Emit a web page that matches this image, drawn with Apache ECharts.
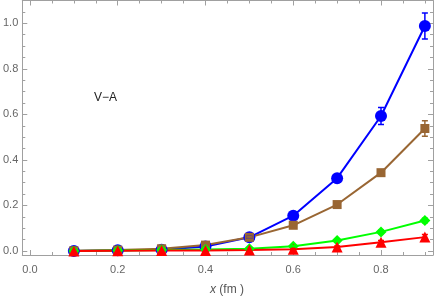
<!DOCTYPE html>
<html><head><meta charset="utf-8">
<script src="https://cdn.jsdelivr.net/npm/echarts@6/dist/echarts.min.js"></script>
<style>html,body{margin:0;padding:0;background:#fff}#c{width:436px;height:300px}</style>
</head><body><div id="c"></div>
<script>
const xs = [0.1,0.2,0.3,0.4,0.5,0.6,0.7,0.8,0.9];
const blueY  = [0.0,0.003,0.006,0.02,0.06,0.155,0.32,0.593,0.988];
const blueE  = [0,0,0,0,0.004,0.006,0.012,0.037,0.057];
const brownY = [0.001,0.004,0.01,0.026,0.06,0.113,0.204,0.344,0.538];
const brownE = [0,0,0,0,0.003,0.004,0.006,0.013,0.034];
const greenY = [0.0,0.002,0.004,0.007,0.01,0.021,0.046,0.084,0.134];
const greenE = [0,0,0,0,0,0.002,0.004,0.007,0.01];
const redY   = [0.0,0.001,0.002,0.002,0.004,0.008,0.018,0.039,0.061];
const redE   = [0,0,0,0,0,0.002,0.004,0.007,0.012];
const xMajor = [0,0.2,0.4,0.6,0.8];
const xMinor = [0.05,0.1,0.15,0.25,0.3,0.35,0.45,0.5,0.55,0.65,0.7,0.75,0.85,0.9];
const yMajor = [0,0.2,0.4,0.6,0.8,1.0];
const yMinor = [0.05,0.1,0.15,0.25,0.3,0.35,0.45,0.5,0.55,0.65,0.7,0.75,0.85,0.9,0.95,1.05];
const annotation = 'V\u2212A';
const xTitle = 'x';
const xUnit = ' (fm )';

const XMIN=-0.0175, XMAX=0.9185, YMIN=-0.0175, YMAX=1.10;
const frame = '#a0a0a0';
const labelColor = '#666';
const font = 'Liberation Sans';

function xAxisDef(pos, vals, len, labels, showLine){
  return {type:'value', position:pos, min:XMIN, max:XMAX, gridIndex:0,
    axisLine:{show:showLine, onZero:false, lineStyle:{color:frame,width:1}},
    splitLine:{show:false},
    axisTick:{show:true, inside:true, length:len, customValues:vals, lineStyle:{color:frame}},
    axisLabel:{show:labels, customValues:vals, color:labelColor, fontFamily:font, fontSize:11, margin:9,
      formatter:v=>v.toFixed(1)}};
}
function yAxisDef(pos, vals, len, labels, showLine){
  return {type:'value', position:pos, min:YMIN, max:YMAX, gridIndex:0,
    axisLine:{show:showLine, onZero:false, lineStyle:{color:frame,width:1}},
    splitLine:{show:false},
    axisTick:{show:true, inside:true, length:len, customValues:vals, lineStyle:{color:frame}},
    axisLabel:{show:labels, customValues:vals, color:labelColor, fontFamily:font, fontSize:11, margin:4,
      formatter:v=>v.toFixed(1)}};
}

function lineSeries(name, ys, color, symbol, size){
  return {name, type:'line', xAxisIndex:0, yAxisIndex:0, data: xs.map((x,i)=>[x,ys[i]]),
    symbol, symbolSize:size, clip:true,
    lineStyle:{color, width:2}, itemStyle:{color}, z:3, animation:false};
}
function errSeries(ys, es, color){
  return {type:'custom', xAxisIndex:0, yAxisIndex:0, z:4, animation:false, clip:true,
    data: xs.map((x,i)=>[x, ys[i]-es[i], ys[i]+es[i]]).filter((d,i)=>es[i]>0),
    renderItem:(params, api)=>{
      const lo = api.coord([api.value(0), api.value(1)]);
      const hi = api.coord([api.value(0), api.value(2)]);
      const w=3;
      const st={stroke:color, lineWidth:1.5};
      return {type:'group', children:[
        {type:'line', shape:{x1:lo[0],y1:lo[1],x2:hi[0],y2:hi[1]}, style:st},
        {type:'line', shape:{x1:lo[0]-w,y1:lo[1],x2:lo[0]+w,y2:lo[1]}, style:st},
        {type:'line', shape:{x1:hi[0]-w,y1:hi[1],x2:hi[0]+w,y2:hi[1]}, style:st}
      ]};
    }};
}

const chart = echarts.init(document.getElementById('c'), null, {renderer:'canvas'});
chart.setOption({
  animation:false,
  backgroundColor:'#fff',
  grid:{left:21.5, right:3, top:0.5, bottom:45, containLabel:false},
  xAxis:[
    xAxisDef('bottom', xMajor, 5, true, true),
    xAxisDef('bottom', xMinor, 3, false, false),
    xAxisDef('top', xMajor, 5, false, true),
    xAxisDef('top', xMinor, 3, false, false)
  ],
  yAxis:[
    yAxisDef('left', yMajor, 5, true, true),
    yAxisDef('left', yMinor, 3, false, false),
    yAxisDef('right', yMajor, 5, false, true),
    yAxisDef('right', yMinor, 3, false, false)
  ],
  graphic:[
    {type:'text', left:94, top:92, style:{text:annotation, fill:'#222', font:'12px "Liberation Sans"'}},
    {type:'text', left:210, top:284, style:{
      rich:{i:{fontStyle:'italic', fontFamily:font, fontSize:12, fill:'#555'}, n:{fontFamily:font, fontSize:12, fill:'#555'}},
      text:'{i|'+xTitle+'}{n|'+xUnit+'}'}}
  ],
  series:[
    lineSeries('blue', blueY, '#0000ff', 'circle', 12),
    errSeries(blueY, blueE, '#0000ff'),
    lineSeries('brown', brownY, '#996633', 'rect', 9),
    errSeries(brownY, brownE, '#996633'),
    lineSeries('green', greenY, '#00ff00', 'diamond', 11),
    errSeries(greenY, greenE, '#00ff00'),
    lineSeries('red', redY, '#ff0000', 'triangle', 11),
    errSeries(redY, redE, '#ff0000')
  ]
});
</script></body></html>
